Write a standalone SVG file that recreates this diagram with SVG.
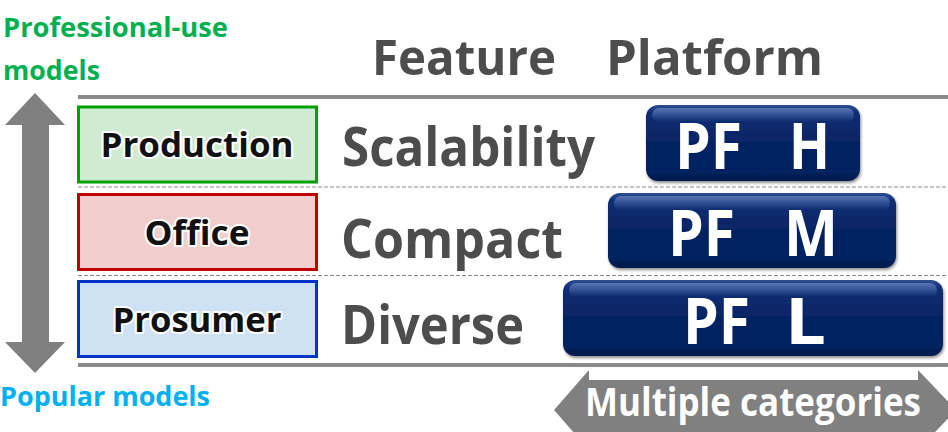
<svg xmlns="http://www.w3.org/2000/svg" width="948" height="432" viewBox="0 0 948 432">
  <style>
    text { font-family: "Open Sans", "Noto Sans", "Liberation Sans", sans-serif; font-weight: 700; }
    .cat { fill: #111; font-size: 34px; text-anchor: middle; stroke: #fff; stroke-width: 4px; stroke-linejoin: round; paint-order: stroke; }
    .feat { fill: #4d4d4d; font-size: 53px; }
    .head { fill: #4d4d4d; font-size: 49px; }
    .pf { fill: #fff; font-size: 64px; }
    .rule { stroke: #8a8a8a; stroke-width: 4; }
    .sep { stroke: #8a8a8a; stroke-width: 1; stroke-dasharray: 4 2; }
    .arrow { fill: #808080; }
  </style>
  <defs>
    <linearGradient id="navy" x1="0" y1="0" x2="0" y2="1">
      <stop offset="0" stop-color="#2f4f93"/>
      <stop offset="0.1" stop-color="#0f2e74"/>
      <stop offset="0.5" stop-color="#062465"/>
      <stop offset="0.88" stop-color="#05225e"/>
      <stop offset="1" stop-color="#021a4c"/>
    </linearGradient>
    <linearGradient id="gloss" x1="0" y1="0" x2="0" y2="1">
      <stop offset="0" stop-color="#5c7ab8" stop-opacity="0.9"/>
      <stop offset="1" stop-color="#5c7ab8" stop-opacity="0"/>
    </linearGradient>
    <filter id="shadow" x="-5%" y="-10%" width="112%" height="130%">
      <feDropShadow dx="1" dy="2" stdDeviation="1.5" flood-color="#000" flood-opacity="0.45"/>
    </filter>
  </defs>

  <!-- axis labels -->
  <text x="3" y="37" font-size="26" fill="#00b050" textLength="225" lengthAdjust="spacingAndGlyphs">Professional-use</text>
  <text x="3" y="80" font-size="26" fill="#00b050" textLength="97" lengthAdjust="spacingAndGlyphs">models</text>
  <text x="0" y="406" font-size="26" fill="#00b0f0" textLength="210" lengthAdjust="spacingAndGlyphs">Popular models</text>

  <!-- column headings -->
  <text class="head" x="372" y="75" textLength="184" lengthAdjust="spacingAndGlyphs">Feature</text>
  <text class="head" x="606" y="75" textLength="217" lengthAdjust="spacingAndGlyphs">Platform</text>

  <!-- table rules -->
  <line class="rule" x1="78" y1="97" x2="948" y2="97"/>
  <line class="sep" x1="78" y1="187" x2="948" y2="187"/>
  <line class="sep" x1="78" y1="275.5" x2="948" y2="275.5"/>
  <line class="rule" x1="78" y1="365" x2="948" y2="365"/>

  <!-- vertical double arrow: professional-use <-> popular -->
  <polygon class="arrow" points="35,93 65,125 49,125 49,342 65,342 35,373 5,342 22,342 22,125 5,125"/>

  <!-- category nodes -->
  <g id="production">
    <rect x="78.5" y="107" width="238" height="75" fill="#cfebd1" stroke="#00a000" stroke-width="3"/>
    <text class="cat" x="197" y="157" textLength="193" lengthAdjust="spacingAndGlyphs">Production</text>
  </g>
  <g id="office">
    <rect x="78.5" y="194.5" width="238" height="75" fill="#f2cdcd" stroke="#c00000" stroke-width="3"/>
    <text class="cat" x="197" y="245" textLength="105" lengthAdjust="spacingAndGlyphs">Office</text>
  </g>
  <g id="prosumer">
    <rect x="78.5" y="281.5" width="238" height="75" fill="#cfe2f3" stroke="#0033cc" stroke-width="3"/>
    <text class="cat" x="197" y="332" textLength="169" lengthAdjust="spacingAndGlyphs">Prosumer</text>
  </g>

  <!-- features -->
  <g id="scalability">
    <text class="feat" x="342" y="166" textLength="253" lengthAdjust="spacingAndGlyphs">Scalability</text>
  </g>
  <g id="compact">
    <text class="feat" x="341" y="258" textLength="222" lengthAdjust="spacingAndGlyphs">Compact</text>
  </g>
  <g id="diverse">
    <text class="feat" x="341" y="344" textLength="183" lengthAdjust="spacingAndGlyphs">Diverse</text>
  </g>

  <!-- platforms -->
  <g id="pf-h" filter="url(#shadow)">
    <rect x="646" y="105" width="214" height="76" rx="12" fill="url(#navy)"/>
    <rect x="652" y="108" width="202" height="14" rx="7" fill="url(#gloss)"/>
    <text class="pf" y="169"><tspan x="675" textLength="67" lengthAdjust="spacingAndGlyphs">PF</tspan><tspan x="789" textLength="41" lengthAdjust="spacingAndGlyphs">H</tspan></text>
  </g>
  <g id="pf-m" filter="url(#shadow)">
    <rect x="608" y="193" width="288" height="75" rx="12" fill="url(#navy)"/>
    <rect x="614" y="196" width="276" height="14" rx="7" fill="url(#gloss)"/>
    <text class="pf" y="256"><tspan x="668" textLength="67" lengthAdjust="spacingAndGlyphs">PF</tspan><tspan x="784" textLength="54" lengthAdjust="spacingAndGlyphs">M</tspan></text>
  </g>
  <g id="pf-l" filter="url(#shadow)">
    <rect x="563" y="280" width="380" height="76" rx="12" fill="url(#navy)"/>
    <rect x="569" y="283" width="368" height="14" rx="7" fill="url(#gloss)"/>
    <text class="pf" y="344"><tspan x="683" textLength="67" lengthAdjust="spacingAndGlyphs">PF</tspan><tspan x="785" textLength="41" lengthAdjust="spacingAndGlyphs">L</tspan></text>
  </g>

  <!-- horizontal double arrow: multiple categories -->
  <g id="multiple-categories">
    <polygon class="arrow" points="554,410 589,370 589,380 918,380 918,370 956,410 918,450 918,440 589,440 589,450"/>
    <text x="585" y="416" font-size="39" fill="#fff" textLength="336" lengthAdjust="spacingAndGlyphs">Multiple categories</text>
  </g>
</svg>
